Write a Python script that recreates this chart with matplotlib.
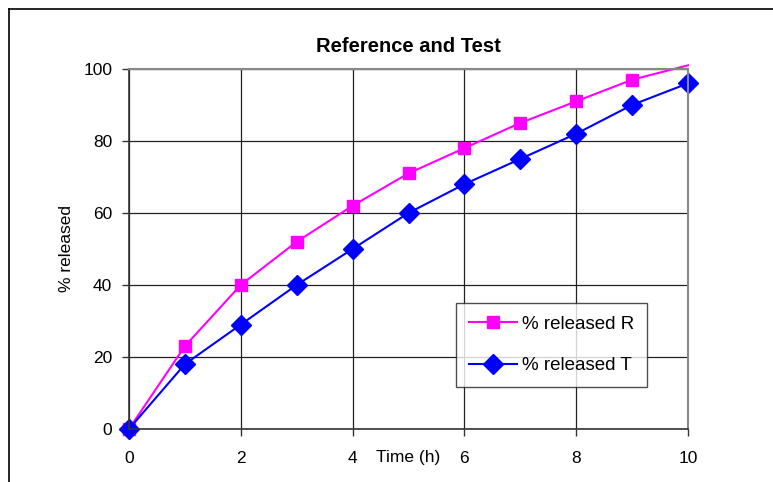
import numpy as np
import matplotlib.pyplot as plt
from matplotlib.lines import Line2D

plt.rcParams["font.family"] = ["Liberation Sans", "DejaVu Sans"]

# data
time_h = [0, 1, 2, 3, 4, 5, 6, 7, 8, 9, 10]
released_r = [0, 23, 40, 52, 62, 71, 78, 85, 91, 97, 101]
released_t = [0, 18, 29, 40, 50, 60, 68, 75, 82, 90, 96]
x_ticks = [0, 2, 4, 6, 8, 10]
y_ticks = [0, 20, 40, 60, 80, 100]

fig = plt.figure(figsize=(7.73, 4.82), dpi=100)
ax = fig.add_axes([0.1669, 0.110, 0.7232, 0.747])

# R's last point sits just above the axis top: line runs out, marker hidden
ax.plot(time_h, released_r, color="#ff00ff", marker="s", markersize=8.5,
        markevery=list(range(len(time_h) - 1)), linewidth=1.5,
        label="% released R", clip_on=False)
ax.plot(time_h, released_t, color="#0000ff", marker="D", markersize=10,
        linewidth=1.5, label="% released T", clip_on=False)

ax.set_xlim(0, 10)
ax.set_ylim(0, 100)
ax.set_xticks(x_ticks)
ax.set_yticks(y_ticks)
ax.grid(True, color="#222222", linewidth=0.9)
ax.set_axisbelow(True)

for side in ["top", "right"]:
    ax.spines[side].set_color("#888888")
    ax.spines[side].set_linewidth(1.5)
for side in ["left", "bottom"]:
    ax.spines[side].set_color("#333333")
    ax.spines[side].set_linewidth(1.2)

ax.tick_params(direction="out", length=5, width=1, labelsize=12.5,
               color="#333333")
ax.tick_params(axis="x", pad=11)
ax.tick_params(axis="y", pad=7)
ax.set_title("Reference and Test", fontsize=14.5, fontweight="bold", pad=12)
ax.set_ylabel("% released", fontsize=12.5, labelpad=7)
ax.text(5.0, -0.058, "Time (h)", fontsize=12.5, ha="center", va="top",
        transform=ax.get_xaxis_transform())

leg = ax.legend(loc="lower right", bbox_to_anchor=(0.9267, 0.1167), fontsize=13.5,
                frameon=True, fancybox=False, edgecolor="#222222",
                handlelength=2.6, borderpad=0.68, labelspacing=1.3,
                handletextpad=0.25, borderaxespad=0)
leg.get_frame().set_linewidth(1.0)

# outer chart border (only left and top visible)
fig.add_artist(Line2D([9 / 773, 9 / 773], [0, 1 - 9 / 482], transform=fig.transFigure,
                      color="black", linewidth=1.2))
fig.add_artist(Line2D([9 / 773, 1], [1 - 9 / 482, 1 - 9 / 482], transform=fig.transFigure,
                      color="black", linewidth=1.2))

plt.savefig("out.png", dpi=100)
